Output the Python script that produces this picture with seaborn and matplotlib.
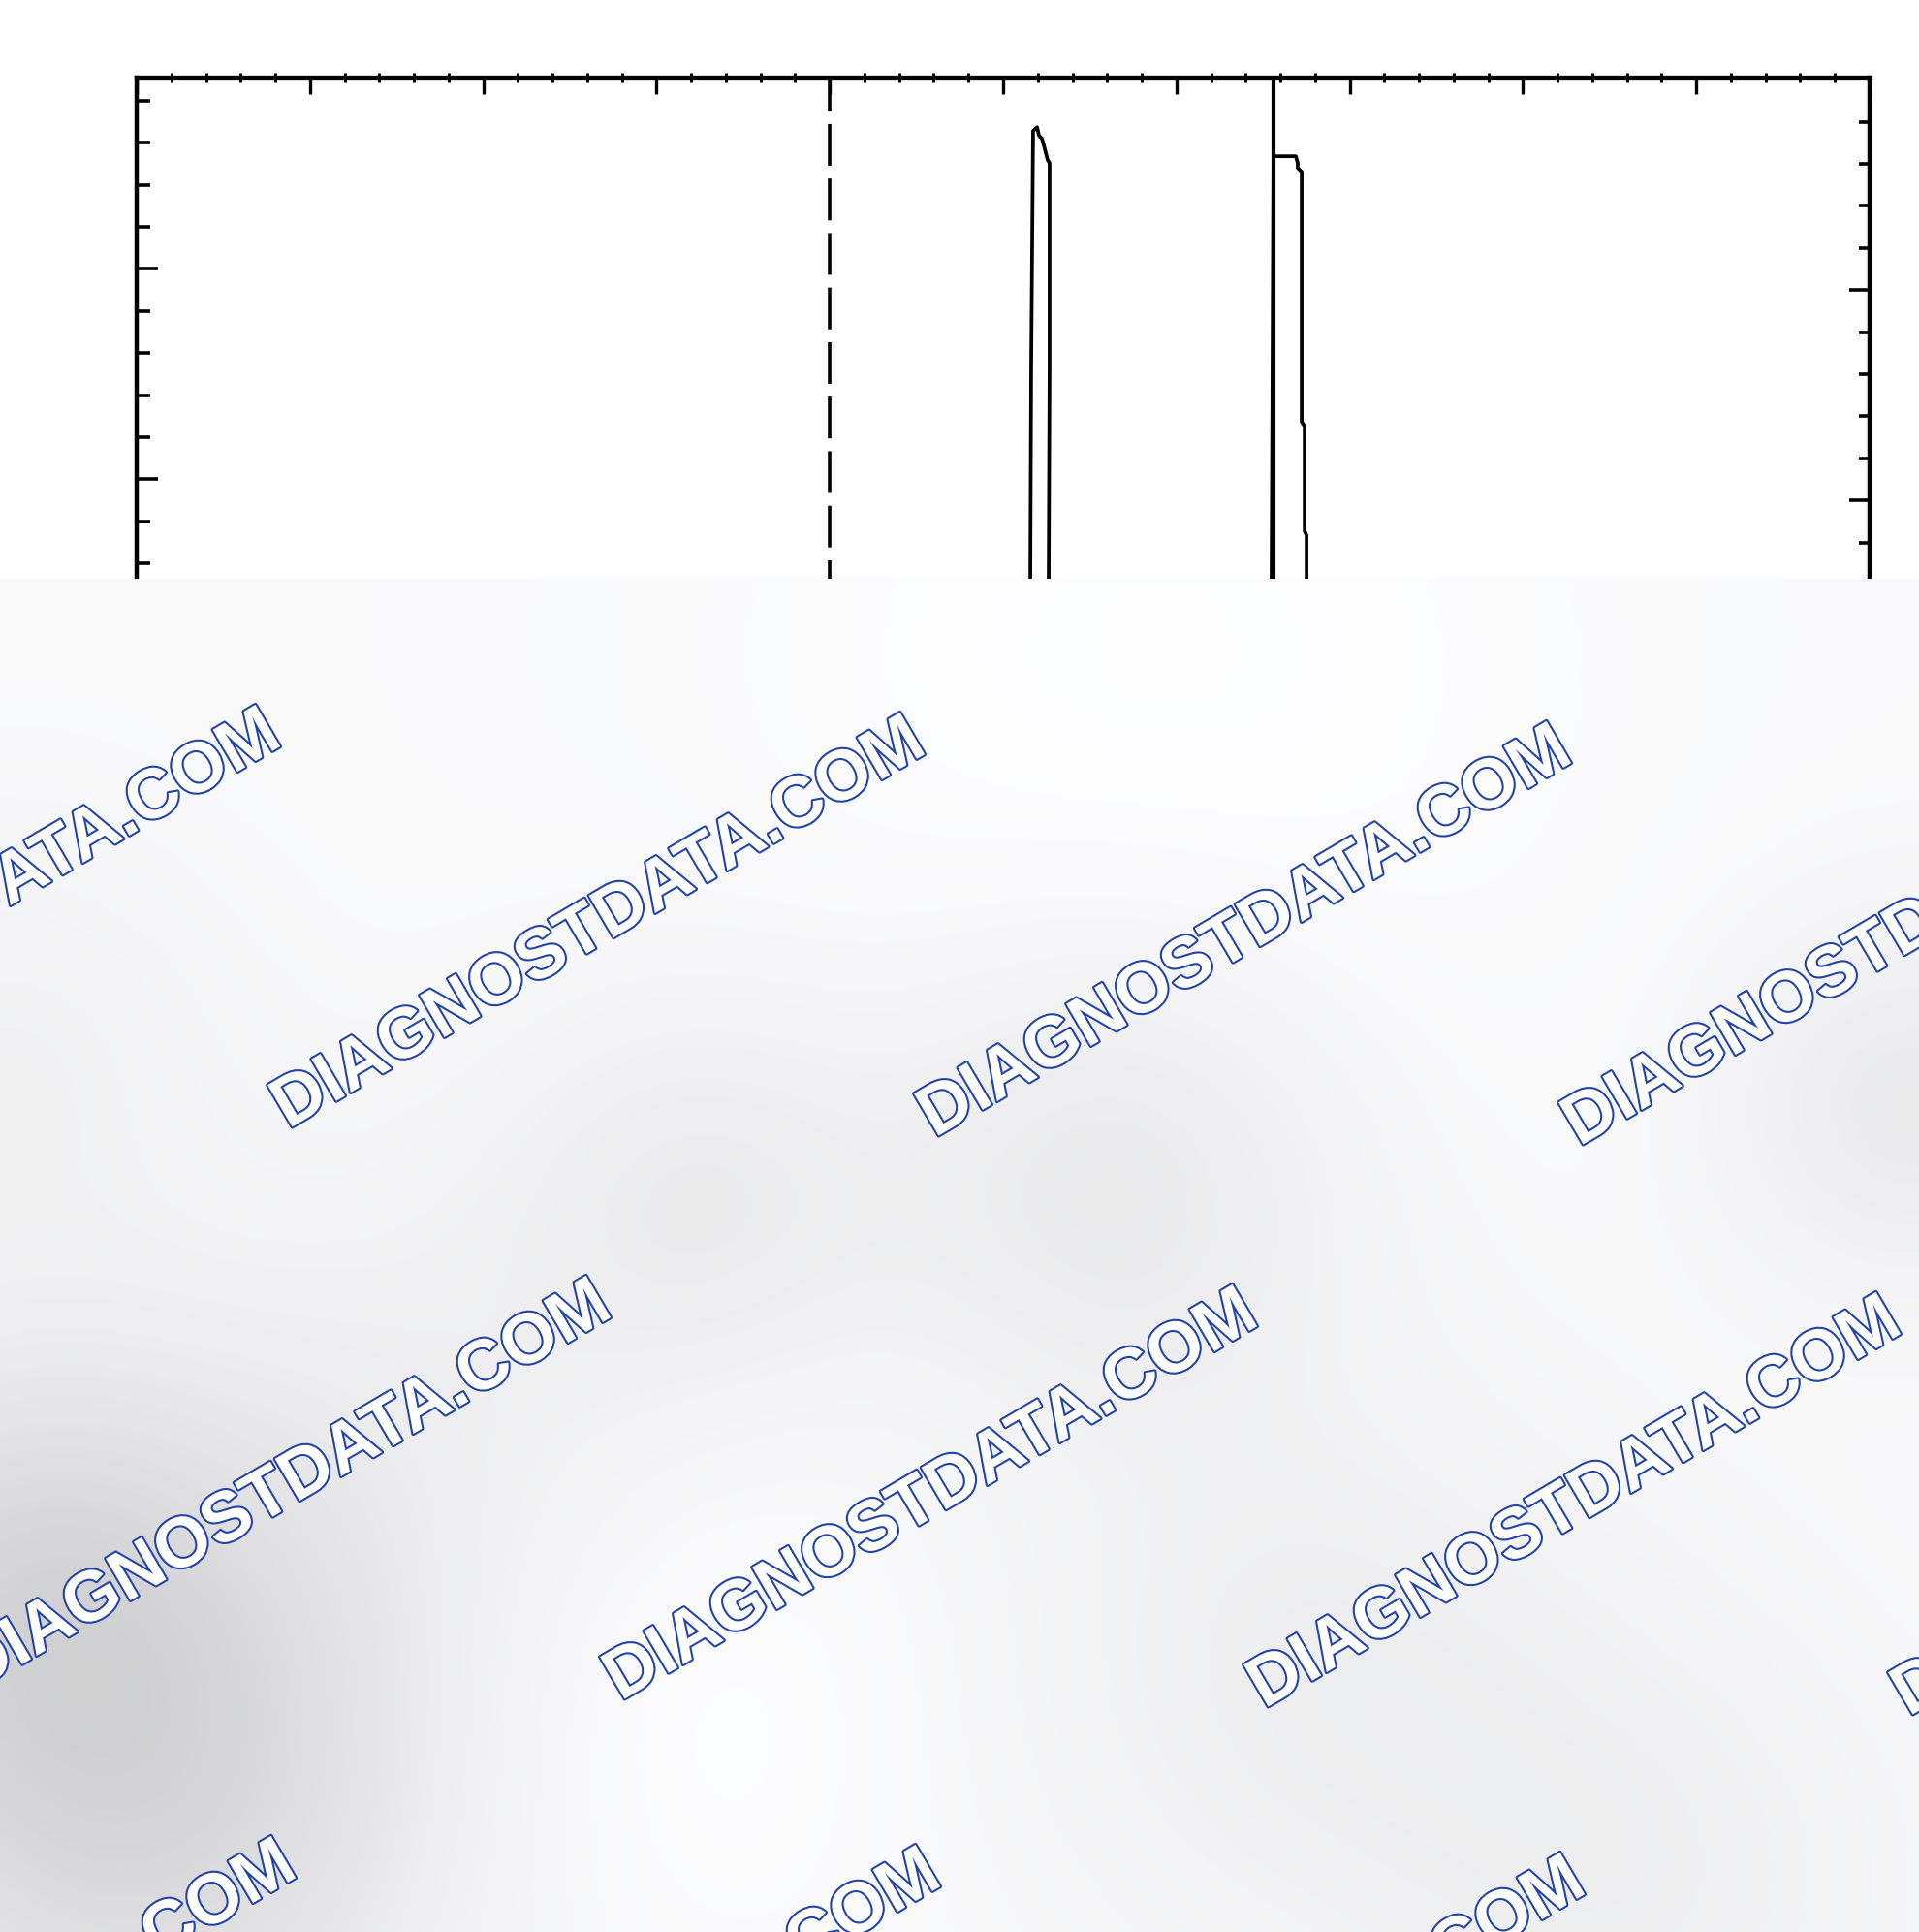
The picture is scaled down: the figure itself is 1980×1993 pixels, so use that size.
import numpy as np
import matplotlib
matplotlib.use("Agg")
import matplotlib.pyplot as plt
import matplotlib.patheffects as pe
from matplotlib.ticker import FixedLocator, NullFormatter
import seaborn as sns

# ---------------- data ----------------
# x in major-division units of the top scale, y in left-tick units
peak1_x = [5.151, 5.157, 5.162, 5.173, 5.196, 5.207, 5.224, 5.235, 5.257, 5.268, 5.268, 5.263, 5.263]
peak1_y = [0.5, 32.64, 37.64, 43.28, 43.37, 43.17, 43.10, 42.94, 42.59, 42.52, 37.64, 32.64, 0.5]
peak2_x = [6.544, 6.549, 6.560, 6.689, 6.700, 6.700, 6.723, 6.723, 6.740, 6.740, 6.751, 6.751]
peak2_y = [0.5, 32.64, 42.68, 42.68, 42.52, 42.40, 42.31, 36.37, 36.26, 33.77, 33.67, 0.5]
dashed_marker_x = 4.0
solid_marker_x = 6.56
x_major_ticks = [0, 1, 2, 3, 4, 5, 6, 7, 8, 9, 10]
x_minor_ticks = [round(i * 0.2, 2) for i in range(51) if i % 5 != 0]
left_major_ticks = [40, 35, 30, 25, 20, 15, 10, 5]
left_minor_ticks = [v for v in range(1, 45) if v % 5 != 0]
right_major_ticks = [39.5, 34.5, 29.5, 24.5, 19.5, 14.5, 9.5, 4.5]
right_minor_ticks = [v + 0.5 for v in range(0, 44) if (v + 0.5) not in right_major_ticks]
x_limits = [0, 10]
y_limits = [0.5, 44.55]
watermark_text = "DIAGNOSTDATA.COM"

# ---------------- figure ----------------
W, H = 1980, 1993
sns.set_theme(style="white")
plt.rcParams["font.family"] = ["Liberation Sans", "DejaVu Sans"]
plt.rcParams["lines.scale_dashes"] = False

fig = plt.figure(figsize=(W / 100, H / 100), dpi=100)
fig.patch.set_facecolor("white")

left_px, right_px, top_px = 141, 1929, 80
ax_h_px = (y_limits[1] - y_limits[0]) * 43.4
ax = fig.add_axes([left_px / W, 1 - (top_px + ax_h_px) / H,
                   (right_px - left_px) / W, ax_h_px / H])
ax.set_facecolor("white")

sns.lineplot(x=peak1_x, y=peak1_y, ax=ax, sort=False, estimator=None,
             color="black", lw=2.7)
sns.lineplot(x=peak2_x, y=peak2_y, ax=ax, sort=False, estimator=None,
             color="black", lw=2.7)
ax.plot([dashed_marker_x, dashed_marker_x], [y_limits[1], y_limits[0]],
        color="black", lw=2.6, ls=(6, (31, 9.5)), solid_capstyle="butt")
ax.axvline(solid_marker_x, color="black", lw=3.0)

ax.set_xlim(*x_limits)
ax.set_ylim(*y_limits)

for side in ["left", "right", "top"]:
    ax.spines[side].set_visible(True)
    ax.spines[side].set_color("black")
    ax.spines[side].set_linewidth(3.2)
ax.spines["top"].set_linewidth(3.8)
ax.spines["bottom"].set_visible(False)

ax.xaxis.tick_top()
ax.xaxis.set_major_locator(FixedLocator(x_major_ticks))
ax.xaxis.set_minor_locator(FixedLocator(x_minor_ticks))
ax.xaxis.set_major_formatter(NullFormatter())
ax.tick_params(axis="x", which="major", direction="in", length=12, width=2.4,
               color="black", top=True, bottom=False)
ax.tick_params(axis="x", which="minor", direction="inout", length=7, width=2.2,
               color="black", top=True, bottom=False)

ax.yaxis.set_major_locator(FixedLocator(left_major_ticks))
ax.yaxis.set_minor_locator(FixedLocator(left_minor_ticks))
ax.yaxis.set_major_formatter(NullFormatter())
ax.tick_params(axis="y", which="major", direction="in", length=16, width=2.6,
               color="black", left=True, right=False)
ax.tick_params(axis="y", which="minor", direction="in", length=10, width=2.6,
               color="black", left=True, right=False)
ax.set_xlabel("")
ax.set_ylabel("")

ax2 = ax.twinx()
ax2.set_ylim(*y_limits)
ax2.yaxis.set_major_locator(FixedLocator(right_major_ticks))
ax2.yaxis.set_minor_locator(FixedLocator(right_minor_ticks))
ax2.yaxis.set_major_formatter(NullFormatter())
ax2.tick_params(axis="y", which="major", direction="in", length=15, width=2.6,
                color="black", right=True, left=False)
ax2.tick_params(axis="y", which="minor", direction="in", length=8, width=2.6,
                color="black", right=True, left=False)
for side in ["left", "right", "top", "bottom"]:
    ax2.spines[side].set_visible(False)
ax2.grid(False)
ax.grid(False)

# ---------------- watermark overlay covering the lower part ----------------
ov_top = 597
ov = fig.add_axes([0, 0, 1, (H - ov_top) / H])
ov.set_zorder(10)
ov.set_xlim(0, W)
ov.set_ylim(H, ov_top)
ov.axis("off")

gx = np.linspace(0, W, 220)
gy = np.linspace(ov_top, H, 160)
GX, GY = np.meshgrid(gx, gy)
shade = np.full(GX.shape, 0.978)
blobs = [(140, 1840, 230, 0.13), (0, 1620, 170, 0.07), (720, 1235, 150, 0.05),
         (1150, 1215, 170, 0.06), (1975, 1140, 130, 0.06), (1350, 1720, 220, 0.04),
         (420, 1480, 200, 0.03), (1700, 1950, 200, 0.035), (0, 1100, 160, 0.03)]
for bx, by, bs, bd in blobs:
    shade -= bd * np.exp(-((GX - bx) ** 2 + (GY - by) ** 2) / (2 * bs ** 2))
lights = [(640, 1760, 200, 0.02), (1200, 700, 300, 0.015)]
for bx, by, bs, bd in lights:
    shade += bd * np.exp(-((GX - bx) ** 2 + (GY - by) ** 2) / (2 * bs ** 2))
shade = np.clip(shade, 0, 1)
rgb = np.dstack([shade, shade + 0.001, shade + 0.006])
rgb = np.clip(rgb, 0, 1)
ov.imshow(rgb, extent=(0, W, H, ov_top), aspect="auto", interpolation="bilinear", zorder=0)

row1 = [(-47, 946), (618, 954), (1285, 963), (1950, 972)]
row2 = [(294, 1535), (961, 1544), (1625, 1552), (2290, 1560)]
row3 = [(-31, 2113), (634, 2122), (1299, 2130), (1964, 2138)]
for cx, cy in row1 + row2 + row3:
    ov.text(cx, cy, watermark_text, rotation=30.5, rotation_mode="anchor",
            ha="center", va="center", fontsize=52.5, fontweight="bold",
            family=["Liberation Sans", "DejaVu Sans"], color="white",
            clip_on=True, zorder=2,
            path_effects=[pe.withStroke(linewidth=3.0, foreground="#2243a8")])

fig.savefig("out.png", dpi=100)
